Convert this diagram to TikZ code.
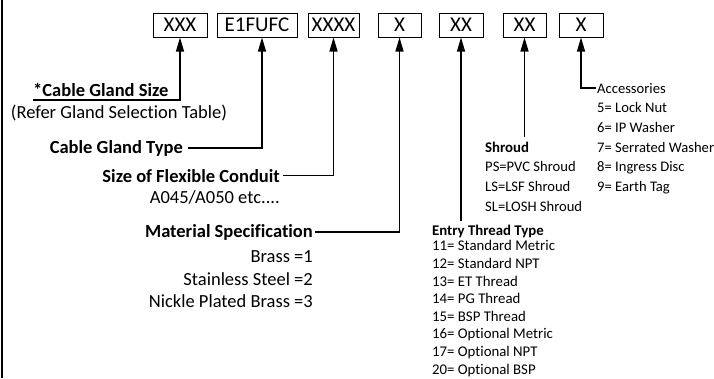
\documentclass[tikz,border=0pt]{standalone}
\usepackage{fontspec}
\setmainfont{Carlito}[Ligatures={NoCommon}]
\usetikzlibrary{arrows.meta, positioning}

\begin{document}
\begin{tikzpicture}[x=1pt, y=-1pt,
      codebox/.style={draw, line width=1pt, minimum height=24pt, inner sep=0pt,
                  text height=14pt, text depth=1pt, font=\fontsize{21}{24}\selectfont},
      mainlbl/.style={inner sep=0pt, font=\fontsize{18.5}{22.5}\selectfont\bfseries},
      mainval/.style={inner sep=0pt, align=right, font=\fontsize{18.5}{22.5}\selectfont},
      smlbl/.style={inner sep=0pt, font=\fontsize{14.8}{19.7}\selectfont\bfseries},
      smval/.style={inner sep=0pt, align=left, font=\fontsize{14.6}{19.7}\selectfont},
      arrow/.style={-{Triangle[length=14pt,width=8pt]}, line width=1.2pt}
    ]
    \useasboundingbox (0,0) rectangle (714,378);
    \draw[line width=1.2pt] (2,0) -- (2,378);

    % code boxes
    \node[codebox, minimum width=54pt] (size) at (180,25) {XXX};
    \node[codebox, minimum width=80pt] (type) at (257,25) {E1FUFC};
    \node[codebox, minimum width=51pt] (conduit) at (333.5,25) {XXXX};
    \node[codebox, minimum width=43pt] (material) at (399.5,25) {X};
    \node[codebox, minimum width=44pt] (thread) at (461,25) {XX};
    \node[codebox, minimum width=43pt] (shroud) at (524.5,25) {XX};
    \node[codebox, minimum width=44pt] (acc) at (581,25) {X};

    % left hand labels
    \node[mainlbl, anchor=base west] (sizelbl) at (33,96) {*Cable Gland Size};
    \node[mainval, anchor=base] (sizenote) at (119,118) {(Refer Gland Selection Table)};
    \node[mainlbl, anchor=base east] (typelbl) at (183,153) {Cable Gland Type};
    \node[mainlbl, anchor=base east] (conduitlbl) at (280,182) {Size of Flexible Conduit};
    \node[mainval, anchor=base east] (conduitval) at (280,203) {A045/A050 etc....};
    \node[mainlbl, anchor=base east] (materiallbl) at (313,237) {Material Specification};
    \node[mainval, anchor=north east] (materialval) at (313,250.5)
      {Brass =1\\Stainless Steel =2\\Nickle Plated Brass =3};

    % right hand labels
    \node[smlbl, anchor=base west] (threadlbl) at (432,235) {Entry Thread Type};
    \node[smval, anchor=north west, font=\fontsize{14.8}{17.6}\selectfont] (threadval) at (432,240.5)
      {11= Standard Metric\\12= Standard NPT\\13= ET Thread\\14= PG Thread\\15= BSP Thread\\
       16= Optional Metric\\17= Optional NPT\\20= Optional BSP};
    \node[smlbl, anchor=base west] (shroudlbl) at (485,152) {Shroud};
    \node[smval, anchor=north west] (shroudval) at (485,161.5)
      {PS=PVC Shroud\\LS=LSF Shroud\\SL=LOSH Shroud};
    \node[smval, anchor=base west] (acclbl) at (597,93) {Accessories};
    \node[smval, anchor=north west] (accval) at (597,102.5)
      {5= Lock Nut\\6= IP Washer\\7= Serrated Washer\\8= Ingress Disc\\9= Earth Tag};

    \draw[arrow] ([yshift=-4pt]sizelbl.base west) -| (size.south);
    \draw[arrow] ([xshift=5pt]typelbl.east) -| ([xshift=5pt]type.south);
    \draw[arrow] ([xshift=3pt]conduitlbl.east) -| (conduit.south);
    \draw[arrow] ([xshift=2pt]materiallbl.east) -| (material.south);
    \draw[arrow] ([yshift=3pt]thread.south |- threadlbl.north) -- (thread.south);
    \draw[arrow] ([yshift=4pt]shroud.south |- shroudlbl.north) -- (shroud.south);
    \draw[arrow] ([xshift=-1pt]acclbl.west) -| (acc.south);
  \end{tikzpicture}
\end{document}
